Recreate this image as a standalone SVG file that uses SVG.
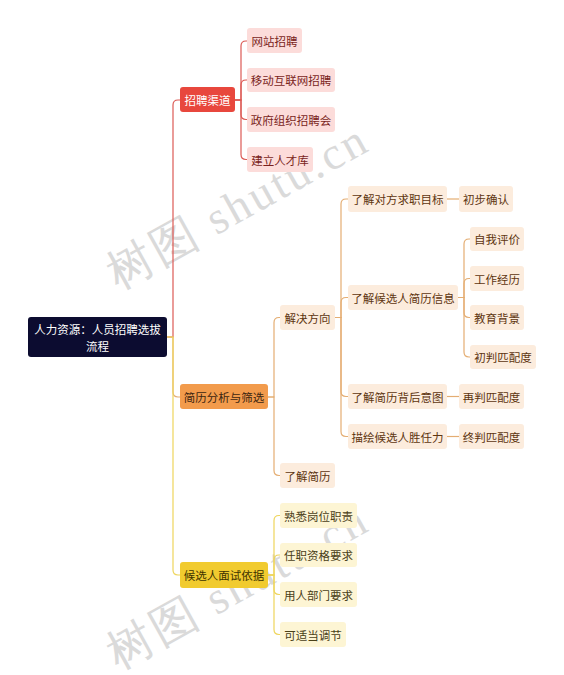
<svg xmlns="http://www.w3.org/2000/svg" width="564" height="675" viewBox="0 0 564 675">
<style>
text{font-family:"Noto Sans CJK SC","Noto Sans",sans-serif;font-size:11.5px;text-anchor:middle;dominant-baseline:central}
.c{fill:none;stroke-width:1.2}
.cr{stroke:#dc5a55}.co{stroke:#e4ad72}.cy{stroke:#eed55c}
.root rect{fill:#0c0c30}.root text{fill:#fff}
.l1r rect{fill:#e8473d}.l1r text{fill:#fff}
.l1o rect{fill:#f29b4c}.l1o text{fill:#3d2510}
.l1y rect{fill:#f1cb2f}.l1y text{fill:#3d3300}
.pr rect{fill:#fcdcda}.pr text{fill:#7a1f1c}
.po rect{fill:#fcecdd}.po text{fill:#5e3510}
.py rect{fill:#fdf5d4}.py text{fill:#4a4018}
.wm{font-family:"Liberation Serif",serif;font-size:46px;fill:#dadada;text-anchor:start;dominant-baseline:auto;letter-spacing:3px}
</style>
<g id="watermarks">
<text class="wm" transform="translate(118,290) rotate(-29)">树图 shutu.cn</text>
<text class="wm" transform="translate(118,670) rotate(-29)">树图 shutu.cn</text>
</g>
<g id="connectors">
<path class="c cr" d="M167,337 H173 V105 Q173,100 178,100 H180"/>
<path class="c co" d="M167,337 H173 V392 Q173,397 178,397 H180"/>
<path class="c cy" d="M167,337 H173 V570 Q173,575 178,575 H180"/>
<path class="c cr" d="M235,100 H241 V46 Q241,41 246,41 H247"/>
<path class="c cr" d="M235,100 H241 V85 Q241,80 246,80 H247"/>
<path class="c cr" d="M235,100 H241 V114.5 Q241,119.5 246,119.5 H247"/>
<path class="c cr" d="M235,100 H241 V154.5 Q241,159.5 246,159.5 H247"/>
<path class="c co" d="M268,397 H274 V322.5 Q274,317.5 279,317.5 H280"/>
<path class="c co" d="M268,397 H274 V470.5 Q274,475.5 279,475.5 H280"/>
<path class="c co" d="M335,317.5 H341 V204 Q341,199 346,199 H348"/>
<path class="c co" d="M335,317.5 H341 V302.5 Q341,297.5 346,297.5 H348"/>
<path class="c co" d="M335,317.5 H341 V391.5 Q341,396.5 346,396.5 H348"/>
<path class="c co" d="M335,317.5 H341 V431.5 Q341,436.5 346,436.5 H348"/>
<path class="c co" d="M447,199 H459"/>
<path class="c co" d="M458,297.5 H464 V244 Q464,239 469,239 H470"/>
<path class="c co" d="M458,297.5 H464 V283.5 Q464,278.5 469,278.5 H470"/>
<path class="c co" d="M458,297.5 H464 V312.5 Q464,317.5 469,317.5 H470"/>
<path class="c co" d="M458,297.5 H464 V352 Q464,357 469,357 H470"/>
<path class="c co" d="M447,396.5 H459"/>
<path class="c co" d="M447,436.5 H459"/>
<path class="c cy" d="M268,575 H274 V520.5 Q274,515.5 279,515.5 H280"/>
<path class="c cy" d="M268,575 H274 V560 Q274,555 279,555 H280"/>
<path class="c cy" d="M268,575 H274 V589.5 Q274,594.5 279,594.5 H280"/>
<path class="c cy" d="M268,575 H274 V629.5 Q274,634.5 279,634.5 H280"/>
</g>
<g id="root" class="root"><rect x="28" y="317" width="139" height="40" rx="3"/><text x="97.5" y="329">人力资源：人员招聘选拔</text><text x="97.5" y="345.5">流程</text></g>
<g id="n-zpqd" class="l1r"><rect x="180" y="87" width="55" height="25" rx="3"/><text x="207.5" y="99.5">招聘渠道</text></g>
<g id="n-jlfx" class="l1o"><rect x="180" y="384" width="88" height="25" rx="3"/><text x="224" y="396.5">简历分析与筛选</text></g>
<g id="n-hxr" class="l1y"><rect x="180" y="562" width="88" height="26" rx="3"/><text x="224" y="575">候选人面试依据</text></g>
<g id="n-wz" class="pr"><rect x="247" y="28" width="55" height="25" rx="3"/><text x="274.5" y="40.5">网站招聘</text></g>
<g id="n-yd" class="pr"><rect x="247" y="68" width="88" height="24" rx="3"/><text x="291" y="80">移动互联网招聘</text></g>
<g id="n-zf" class="pr"><rect x="247" y="107" width="88" height="25" rx="3"/><text x="291" y="119.5">政府组织招聘会</text></g>
<g id="n-jl" class="pr"><rect x="247" y="147" width="66" height="25" rx="3"/><text x="280" y="159.5">建立人才库</text></g>
<g id="n-jjfx" class="po"><rect x="280" y="305" width="55" height="25" rx="3"/><text x="307.5" y="317.5">解决方向</text></g>
<g id="n-ljjl" class="po"><rect x="280" y="463" width="55" height="25" rx="3"/><text x="307.5" y="475.5">了解简历</text></g>
<g id="n-ljdf" class="po"><rect x="348" y="186" width="99" height="26" rx="3"/><text x="397.5" y="199">了解对方求职目标</text></g>
<g id="n-ljhx" class="po"><rect x="348" y="285" width="110" height="25" rx="3"/><text x="403" y="297.5">了解候选人简历信息</text></g>
<g id="n-ljbh" class="po"><rect x="348" y="384" width="99" height="25" rx="3"/><text x="397.5" y="396.5">了解简历背后意图</text></g>
<g id="n-mh" class="po"><rect x="348" y="424" width="99" height="25" rx="3"/><text x="397.5" y="436.5">描绘候选人胜任力</text></g>
<g id="n-cbqr" class="po"><rect x="459" y="186" width="54" height="26" rx="3"/><text x="486" y="199">初步确认</text></g>
<g id="n-zwpj" class="po"><rect x="470" y="227" width="54" height="24" rx="3"/><text x="497" y="239">自我评价</text></g>
<g id="n-gzjl" class="po"><rect x="470" y="266" width="54" height="25" rx="3"/><text x="497" y="278.5">工作经历</text></g>
<g id="n-jybj" class="po"><rect x="470" y="305" width="54" height="25" rx="3"/><text x="497" y="317.5">教育背景</text></g>
<g id="n-cp" class="po"><rect x="470" y="345" width="66" height="24" rx="3"/><text x="503" y="357">初判匹配度</text></g>
<g id="n-zp" class="po"><rect x="459" y="384" width="65" height="25" rx="3"/><text x="491.5" y="396.5">再判匹配度</text></g>
<g id="n-zhp" class="po"><rect x="459" y="424" width="65" height="25" rx="3"/><text x="491.5" y="436.5">终判匹配度</text></g>
<g id="n-sx" class="py"><rect x="280" y="503" width="77" height="25" rx="3"/><text x="318.5" y="515.5">熟悉岗位职责</text></g>
<g id="n-rz" class="py"><rect x="280" y="543" width="77" height="24" rx="3"/><text x="318.5" y="555">任职资格要求</text></g>
<g id="n-yr" class="py"><rect x="280" y="582" width="77" height="25" rx="3"/><text x="318.5" y="594.5">用人部门要求</text></g>
<g id="n-ks" class="py"><rect x="280" y="622" width="66" height="25" rx="3"/><text x="313" y="634.5">可适当调节</text></g>
</svg>
